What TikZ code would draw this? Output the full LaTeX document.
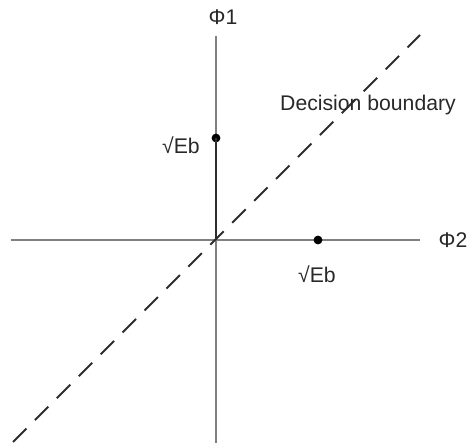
\documentclass[tikz,border=0pt]{standalone}
\usepackage{fontspec}
\setmainfont{Liberation Sans}
\usepackage{tikz}
\usetikzlibrary{positioning,calc}
\usepackage{xcolor}
\definecolor{axisgray}{RGB}{128,128,128}
\definecolor{darkline}{RGB}{45,45,45}
\definecolor{textgray}{RGB}{40,40,40}

\begin{document}
\begin{tikzpicture}[x=0.5pt,y=-0.5pt,
    axis/.style={draw=axisgray, line width=1.1pt},
    boundary/.style={draw=darkline, line width=1pt, dash pattern=on 9.5pt off 6pt},
    signal/.style={draw=darkline, line width=1.2pt},
    dot/.style={circle, fill=black, inner sep=0pt, minimum size=4.4pt},
    lbl/.style={font=\fontsize{10.6}{12}\selectfont, text=textgray, inner sep=0pt}]
    \useasboundingbox (0,0) rectangle (468,443);

    % Axes
    \coordinate (O) at (216,240);
    \coordinate (ytop) at (216,36);
    \coordinate (ybot) at (216,443);
    \coordinate (xleft) at (11,240);
    \coordinate (xright) at (420,240);
    \draw[axis] (xleft) -- (xright);
    \draw[axis] (ytop) -- (ybot);
    \node[lbl] (phi1) at (223,17) {Φ1};
    \node[lbl] (phi2) at (453,240) {Φ2};

    % Decision boundary
    \coordinate (bstart) at (13,442);
    \coordinate (bend) at (420,35);
    \draw[boundary] (bstart) -- (bend);
    \node[lbl] (dec) at (368,105) {Decision boundary};

    % Signal points
    \node[dot] (s1) at (216,138) {};
    \node[dot] (s2) at (318,240) {};
    \draw[signal] (O) -- (s1.center);
    \node[lbl] (s1lbl) at (181,145) {√Eb};
    \node[lbl] (s2lbl) at (317,274) {√Eb};
\end{tikzpicture}
\end{document}
